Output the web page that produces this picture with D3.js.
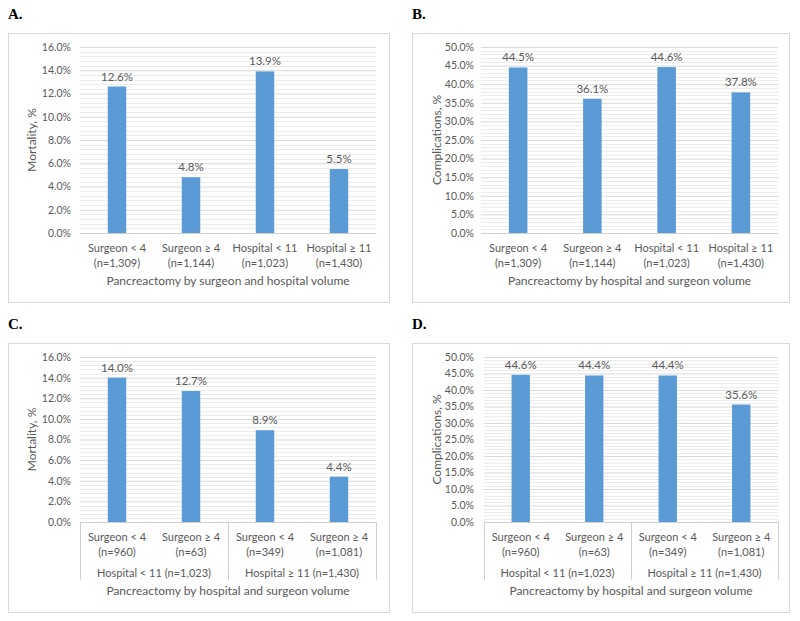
<!DOCTYPE html>
<html>
<head>
<meta charset="utf-8">
<script src="https://cdn.jsdelivr.net/npm/d3@7"></script>
<style>
  body { margin: 0; background: #fff; }
  svg text { font-family: Lato, "Open Sans", sans-serif; fill: #595959; }
</style>
</head>
<body>
<svg id="chart" width="800" height="621"></svg>
<script>
// values
var mortalityByVolume = [12.6, 4.8, 13.9, 5.5];
var complicationsByVolume = [44.5, 36.1, 44.6, 37.8];
var mortalityNested = [14.0, 12.7, 8.9, 4.4];
var complicationsNested = [44.6, 44.4, 44.4, 35.6];

var volumeCategories = [
    ["Surgeon < 4", "(n=1,309)"],
    ["Surgeon \u2265 4", "(n=1,144)"],
    ["Hospital < 11", "(n=1,023)"],
    ["Hospital \u2265 11", "(n=1,430)"]
];
var nestedCategories = [
    ["Surgeon < 4", "(n=960)"],
    ["Surgeon \u2265 4", "(n=63)"],
    ["Surgeon < 4", "(n=349)"],
    ["Surgeon \u2265 4", "(n=1,081)"]
];
var hospitalGroups = ["Hospital < 11 (n=1,023)", "Hospital \u2265 11 (n=1,430)"];

var mortalityTicks = [0, 2, 4, 6, 8, 10, 12, 14, 16];
var complicationTicks = [0, 5, 10, 15, 20, 25, 30, 35, 40, 45, 50];

var svg = d3.select("#chart");

function drawPanel(cfg) {
    var g = svg.append("g");

    // panel letter
    g.append("text")
        .attr("x", cfg.box[0])
        .attr("y", cfg.box[1] - 14)
        .style("font-family", "'Liberation Serif', 'DejaVu Serif', serif")
        .style("font-weight", "bold")
        .style("font-size", "15px")
        .style("fill", "#000")
        .text(cfg.letter);

    // chart border
    g.append("rect")
        .attr("x", cfg.box[0] + 0.5)
        .attr("y", cfg.box[1] + 0.5)
        .attr("width", cfg.box[2] - cfg.box[0])
        .attr("height", cfg.box[3] - cfg.box[1])
        .attr("fill", "none")
        .attr("stroke", "#d9d9d9");

    var x = d3.scaleBand()
        .domain(d3.range(cfg.values.length))
        .range([cfg.plot.left, cfg.plot.right])
        .paddingInner(0.75)
        .paddingOuter(0.375);

    var ticks = cfg.ticks;
    var y = d3.scaleLinear()
        .domain([0, ticks[ticks.length - 1]])
        .range([cfg.plot.bottom, cfg.plot.top]);

    // minor gridlines, 5 steps per major interval
    var step = ticks[1] - ticks[0];
    var minor = [];
    ticks.slice(0, -1).forEach(function (t) {
        for (var i = 1; i < 5; i++) minor.push(t + step * i / 5);
    });
    g.selectAll(".minor")
        .data(minor)
        .enter().append("line")
        .attr("x1", cfg.plot.left)
        .attr("x2", cfg.plot.right)
        .attr("y1", function (d) { return Math.round(y(d)) + 0.5; })
        .attr("y2", function (d) { return Math.round(y(d)) + 0.5; })
        .attr("stroke", "#ececec");

    // major gridlines + tick labels
    var yAxis = d3.axisLeft(y)
        .tickValues(ticks)
        .tickSize(-(cfg.plot.right - cfg.plot.left))
        .tickPadding(6)
        .tickFormat(function (d) { return d.toFixed(1) + "%"; });
    var ag = g.append("g")
        .attr("transform", "translate(" + cfg.plot.left + ",0)")
        .call(yAxis);
    ag.select(".domain").remove();
    ag.selectAll(".tick line").attr("stroke", "#d9d9d9");
    ag.selectAll(".tick text")
        .style("font-size", "10.5px")
        .attr("x", cfg.tickRight - cfg.plot.left);

    // axis base line
    g.append("line")
        .attr("x1", cfg.plot.left)
        .attr("x2", cfg.plot.right)
        .attr("y1", cfg.plot.bottom + 0.5)
        .attr("y2", cfg.plot.bottom + 0.5)
        .attr("stroke", "#d0d0d0");

    // bars
    g.selectAll(".bar")
        .data(cfg.values)
        .enter().append("rect")
        .attr("x", function (d, i) { return x(i); })
        .attr("width", x.bandwidth())
        .attr("y", function (d) { return y(d); })
        .attr("height", function (d) { return cfg.plot.bottom - y(d); })
        .attr("fill", "#5b9bd5");

    // data labels
    g.selectAll(".val")
        .data(cfg.values)
        .enter().append("text")
        .attr("x", function (d, i) { return x(i) + x.bandwidth() / 2; })
        .attr("y", function (d) { return y(d) - 6; })
        .attr("text-anchor", "middle")
        .style("font-size", "11.5px")
        .text(function (d) { return d.toFixed(1) + "%"; });

    // category labels (two lines)
    cfg.categories.forEach(function (c, i) {
        var cx = x(i) + x.bandwidth() / 2;
        c.forEach(function (line, j) {
            g.append("text")
                .attr("x", cx)
                .attr("y", cfg.plot.bottom + 19 + j * 15)
                .attr("text-anchor", "middle")
                .style("font-size", "11px")
                .text(line);
        });
    });

    var titleY = cfg.plot.bottom + 52;

    // grouped axis for hospital volume
    if (cfg.groups) {
        var mid = (cfg.plot.left + cfg.plot.right) / 2;
        [cfg.plot.left, mid, cfg.plot.right].forEach(function (sx) {
            g.append("line")
                .attr("x1", Math.round(sx) + 0.5)
                .attr("x2", Math.round(sx) + 0.5)
                .attr("y1", cfg.plot.bottom)
                .attr("y2", cfg.plot.bottom + 58)
                .attr("stroke", "#d0d0d0");
        });
        cfg.groups.forEach(function (gname, i) {
            g.append("text")
                .attr("x", (x(i * 2) + x(i * 2 + 1) + x.bandwidth()) / 2)
                .attr("y", cfg.plot.bottom + 55)
                .attr("text-anchor", "middle")
                .style("font-size", "11px")
                .text(gname);
        });
        titleY = cfg.plot.bottom + 73;
    }

    // x axis title
    g.append("text")
        .attr("x", (cfg.plot.left + cfg.plot.right) / 2)
        .attr("y", titleY)
        .attr("text-anchor", "middle")
        .style("font-size", "12px")
        .text(cfg.xTitle);

    // y axis title
    g.append("text")
        .attr("transform", "translate(" + cfg.yTitleX + "," + (cfg.plot.top + cfg.plot.bottom) / 2 + ") rotate(-90)")
        .attr("text-anchor", "middle")
        .style("font-size", "12px")
        .text(cfg.yTitle);
}

drawPanel({
    letter: "A.", box: [8, 33, 389, 302],
    plot: { left: 80, right: 376, top: 47, bottom: 233 }, tickRight: 71, yTitleX: 36,
    values: mortalityByVolume, ticks: mortalityTicks, categories: volumeCategories,
    yTitle: "Mortality, %", xTitle: "Pancreactomy by surgeon and hospital volume"
});
drawPanel({
    letter: "B.", box: [412, 33, 789, 302],
    plot: { left: 481, right: 778, top: 47, bottom: 233 }, tickRight: 474, yTitleX: 441,
    values: complicationsByVolume, ticks: complicationTicks, categories: volumeCategories,
    yTitle: "Complications, %", xTitle: "Pancreactomy by hospital and surgeon volume"
});
drawPanel({
    letter: "C.", box: [8, 343, 389, 612],
    plot: { left: 80, right: 376, top: 357, bottom: 522 }, tickRight: 71, yTitleX: 36,
    values: mortalityNested, ticks: mortalityTicks, categories: nestedCategories, groups: hospitalGroups,
    yTitle: "Mortality, %", xTitle: "Pancreactomy by hospital and surgeon volume"
});
drawPanel({
    letter: "D.", box: [412, 343, 789, 612],
    plot: { left: 484, right: 778, top: 357, bottom: 522 }, tickRight: 474, yTitleX: 441,
    values: complicationsNested, ticks: complicationTicks, categories: nestedCategories, groups: hospitalGroups,
    yTitle: "Complications, %", xTitle: "Pancreactomy by hospital and surgeon volume"
});
</script>
</body>
</html>
